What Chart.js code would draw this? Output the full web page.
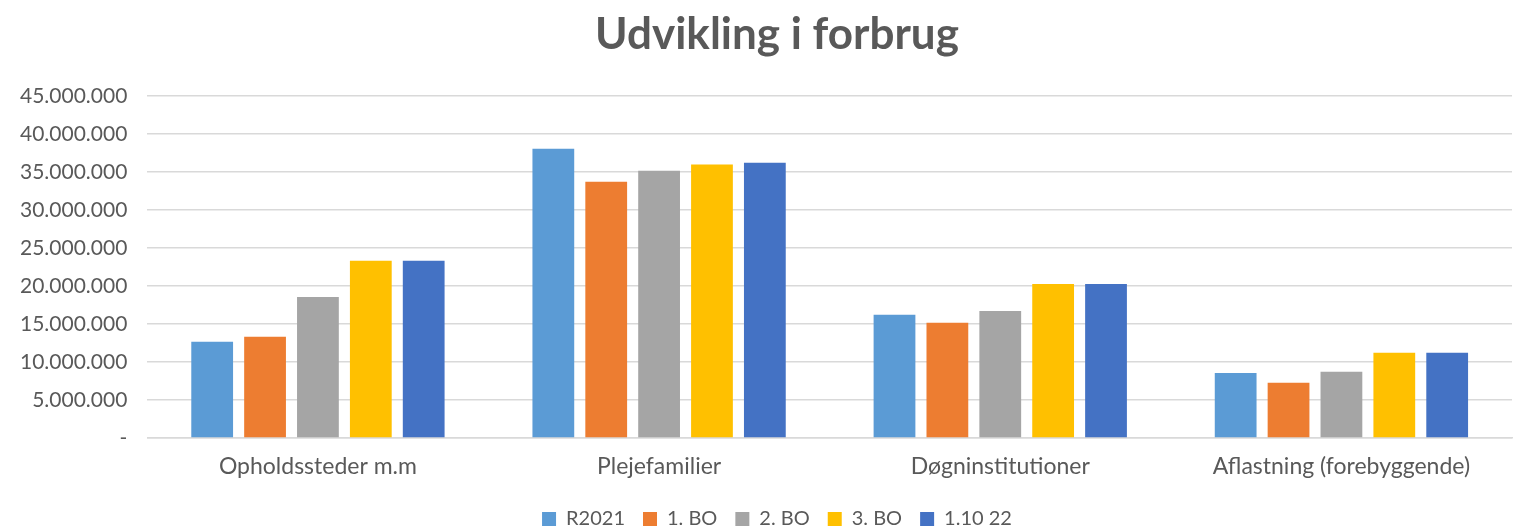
<!DOCTYPE html>
<html>
<head>
<meta charset="utf-8">
<script src="https://cdn.jsdelivr.net/npm/chart.js@4"></script>
<style>
  html, body { margin: 0; padding: 0; background: #fff; overflow: hidden; }
</style>
</head>
<body>
<canvas id="myChart" width="1554" height="530"></canvas>
<script>
const categories = ['Opholdssteder m.m', 'Plejefamilier', 'Døgninstitutioner', 'Aflastning (forebyggende)'];
const seriesNames = ['R2021', '1. BO', '2. BO', '3. BO', '1.10 22'];
const r2021 = [12650000, 38050000, 16200000, 8550000];
const bo1 = [13300000, 33700000, 15150000, 7250000];
const bo2 = [18550000, 35150000, 16700000, 8700000];
const bo3 = [23300000, 35950000, 20250000, 11200000];
const okt22 = [23300000, 36200000, 20250000, 11200000];
const colors = ['#5B9BD5', '#ED7D31', '#A5A5A5', '#FFC000', '#4472C4'];

Chart.defaults.font.family = 'Lato, "Liberation Sans", sans-serif';
Chart.defaults.color = '#595959';

const allSeries = [r2021, bo1, bo2, bo3, okt22];

const ctx = document.getElementById('myChart');
const chart = new Chart(ctx, {
    type: 'bar',
    data: {
        labels: categories,
        datasets: allSeries.map((vals, i) => ({
            label: seriesNames[i],
            data: vals,
            backgroundColor: colors[i],
            borderWidth: 0,
            barPercentage: 0.79,
            categoryPercentage: 0.775
        }))
    },
    options: {
        responsive: false,
        animation: false,
        layout: {
            padding: { left: 0, right: 0, top: 0, bottom: -9 }
        },
        scales: {
            x: {
                grid: { display: false, drawTicks: false },
                border: { color: '#d9d9d9', width: 1.5 },
                ticks: { font: { size: 23, lineHeight: 0.7 }, color: '#595959', padding: 21 },
                afterFit: s => { s.height = 53; }
            },
            y: {
                min: 0,
                max: 45000000,
                grid: { color: '#d9d9d9', lineWidth: 1.5, drawTicks: false },
                border: { display: false },
                ticks: {
                    stepSize: 5000000,
                    font: { size: 21 },
                    color: '#595959',
                    padding: 20,
                    callback: v => v === 0 ? '-' : v.toLocaleString('de-DE')
                }
            },
            // empty spacer on the right (off-screen) so title and legend sit centred like the original
            spacer: {
                type: 'linear',
                position: 'right',
                grid: { display: false },
                border: { display: false },
                ticks: { display: false },
                afterFit: s => { s.width = 42; }
            }
        },
        plugins: {
            title: {
                display: true,
                text: 'Udvikling i forbrug',
                color: '#595959',
                font: { size: 44, weight: 'bold' },
                padding: { top: 8, bottom: 35 }
            },
            legend: {
                position: 'bottom',
                labels: {
                    boxWidth: 14,
                    boxHeight: 14,
                    font: { size: 20 },
                    color: '#595959',
                    padding: 18
                }
            },
            tooltip: { enabled: false }
        }
    }
});
</script>
</body>
</html>
